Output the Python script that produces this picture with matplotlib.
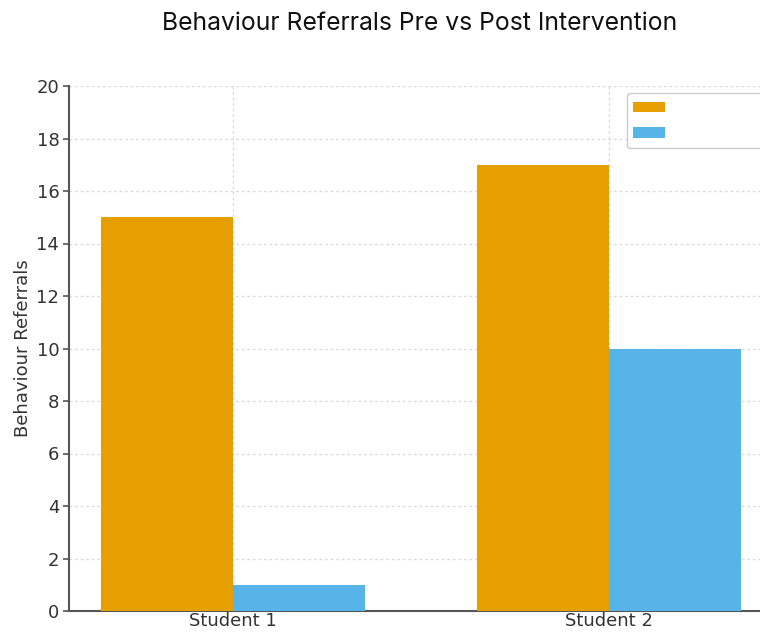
import numpy as np
import matplotlib
matplotlib.use('Agg')
from matplotlib import pyplot as plt

students = ['Student 1', 'Student 2']
pre_values = [15, 17]
post_values = [1, 10]
series_labels = ['Pre', 'Post']
y_ticks = [0, 2, 4, 6, 8, 10, 12, 14, 16, 18, 20]

pre_color = '#E69F00'
post_color = '#56B4E9'

fig = plt.figure(figsize=(7.6, 6.32), dpi=100)
ax = fig.add_axes([69 / 760, 21 / 632, 704 / 760, 525 / 632])

x = np.arange(len(students))
width = 0.35
ax.bar(x - width / 2, pre_values, width, color=pre_color, label=series_labels[0], zorder=3)
ax.bar(x + width / 2, post_values, width, color=post_color, label=series_labels[1], zorder=3)

ax.set_xticks(x)
ax.set_xticklabels(students, fontsize=13, color='#333333')
ax.set_yticks(y_ticks)
ax.set_yticklabels([str(v) for v in y_ticks], fontsize=13, color='#333333')
ax.set_ylim(0, 20)
ax.set_xlim(-0.435, 1.435)
ax.set_ylabel('Behaviour Referrals', fontsize=13, color='#333333', labelpad=3)

ax.grid(True, linestyle=(0, (2, 2)), color='#dcdcdc', linewidth=1, zorder=0)
for side in ['top', 'right']:
    ax.spines[side].set_visible(False)
for side in ['left', 'bottom']:
    ax.spines[side].set_color('#555555')
    ax.spines[side].set_linewidth(1.5)
ax.tick_params(axis='y', colors='#555555', length=4, width=1.2, pad=3, labelcolor='#333333')
ax.tick_params(axis='x', length=0, pad=1, labelcolor='#333333')

# legend frame stretched past the right edge, like the cropped original
leg = fig.legend(loc='upper left', bbox_to_anchor=(627 / 760, 1 - 145 / 632, 150 / 760, 52 / 632),
                 bbox_transform=fig.transFigure, borderaxespad=0, mode='expand',
                 fontsize=12, handlelength=1.9, handleheight=0.6, labelspacing=0.45,
                 borderpad=0.35, frameon=True, fancybox=True, edgecolor='#cccccc',
                 framealpha=1)
for t in leg.get_texts():
    t.set_color('white')

fig.text(420 / 760, 1 - 24 / 632, 'Behaviour Referrals Pre vs Post Intervention',
         ha='center', va='center', fontsize=17.8, family=['Inter', 'DejaVu Sans'],
         color='#111111')

fig.savefig('out.png', dpi=100)
